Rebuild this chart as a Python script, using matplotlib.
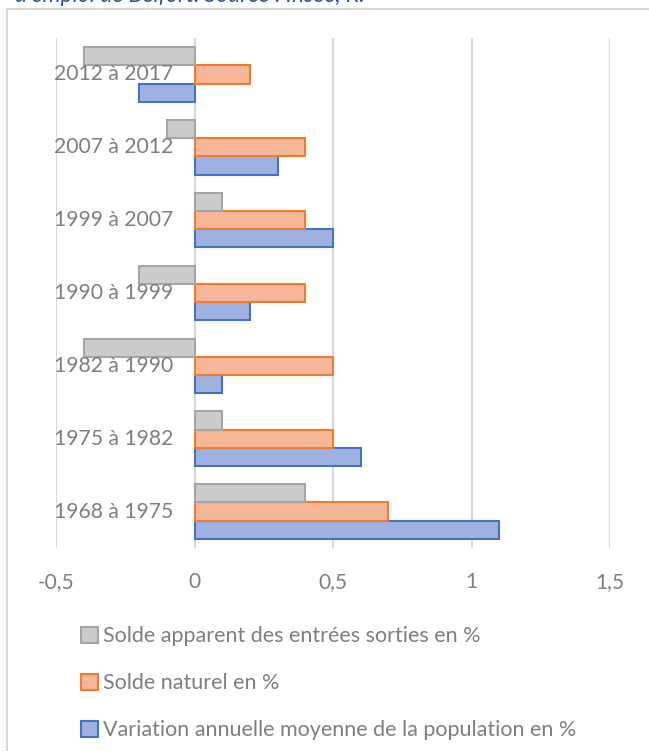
import matplotlib.pyplot as plt
import numpy as np
from matplotlib.patches import Rectangle

# Periods (bottom to top) and the three series, in %
periods = ["1968 à 1975", "1975 à 1982", "1982 à 1990", "1990 à 1999",
           "1999 à 2007", "2007 à 2012", "2012 à 2017"]
variation = [1.1, 0.6, 0.1, 0.2, 0.5, 0.3, -0.2]
solde_naturel = [0.7, 0.5, 0.5, 0.4, 0.4, 0.4, 0.2]
solde_apparent = [0.4, 0.1, -0.4, -0.2, 0.1, -0.1, -0.4]

series_names = ["Variation annuelle moyenne de la population en %",
                "Solde naturel en %",
                "Solde apparent des entrées sorties en %"]
xticks = [-0.5, 0, 0.5, 1, 1.5]
xtick_labels = ["-0,5", "0", "0,5", "1", "1,5"]

plt.rcParams['font.family'] = ['Lato', 'DejaVu Sans']
GRAY_TXT = "#7f7f7f"
GRID = "#d9d9d9"

fig = plt.figure(figsize=(6.49, 7.51), dpi=100)

# outer chart frame
fig.patches.append(Rectangle((6.5 / 649, -0.05), 1.0, (751 - 9.5) / 751 + 0.05,
                             transform=fig.transFigure, fill=False,
                             edgecolor=GRID, linewidth=1.5))

# caption line running above the frame
fig.text(15 / 649, 1 - 2 / 751, "d'emploi de Belfort. Source : Insee, R.",
         ha="left", va="baseline", fontsize=16.5, style="italic", color="#2E5597")

ax = fig.add_axes([56 / 649, 203 / 751, 554 / 649, 510 / 751])

y = np.arange(len(periods))
h = 0.25
fills = ["#9FB1E0", "#F6B698", "#CBCBCB"]
edges = ["#4472C4", "#ED7D31", "#A5A5A5"]
values = [variation, solde_naturel, solde_apparent]
offsets = [-h, 0, h]
handles = []
for vals, off, fc, ec, name in zip(values, offsets, fills, edges, series_names):
    b = ax.barh(y + off, vals, height=h, color=fc, edgecolor=ec,
                linewidth=1.5, label=name, zorder=3)
    handles.append(b)

ax.set_xlim(-0.5, 1.5)
ax.set_ylim(-0.5, len(periods) - 0.5)
ax.set_xticks(xticks)
ax.set_xticklabels(xtick_labels, fontsize=15, color=GRAY_TXT)
ax.tick_params(axis="x", length=0, pad=17)
ax.set_yticks([])
for xv in xticks:
    ax.axvline(xv, color=GRID, linewidth=1.5, zorder=1)
for s in ax.spines.values():
    s.set_visible(False)

# category labels sit left of the zero line, over the bars
for yi, lab in zip(y, periods):
    ax.text(-0.075, yi, lab, ha="right", va="center", fontsize=15.2,
            color=GRAY_TXT, zorder=4)

leg = fig.legend(handles[::-1], series_names[::-1], loc="upper left",
                 bbox_to_anchor=(62 / 649, 1 - 607 / 751), frameon=False,
                 fontsize=15.5, labelcolor=GRAY_TXT, handlelength=0.75,
                 handleheight=0.75, handletextpad=0.25, labelspacing=1.25)

fig.savefig("out.png", dpi=100)
